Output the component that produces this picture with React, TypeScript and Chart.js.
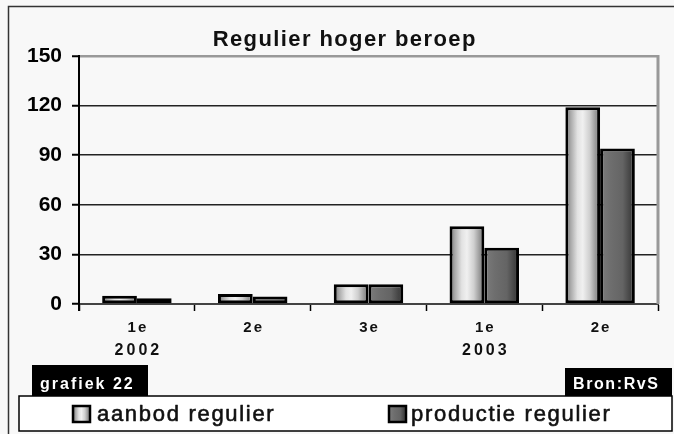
import React, { useEffect, useRef } from "react";
import { Chart, registerables } from "chart.js";

Chart.register(...registerables);

// ---- data ----
const quarters = ["1e", "2e", "3e", "1e", "2e"];
const years = ["2002", "", "", "2003", ""];
const aanbod = [5, 6, 12, 47, 119];
const productie = [3.5, 4.5, 12, 34, 94];
const yTicks = [0, 30, 60, 90, 120, 150];
const titleText = "Regulier hoger beroep";
const seriesNames = ["aanbod regulier", "productie regulier"];
const graphLabel = "grafiek 22";
const sourceLabel = "Bron:RvS";

const W = 674;
const H = 434;
const CAT_PCT = 0.6;
const FONT = "'Liberation Sans', Arial, sans-serif";

function lightGradient(ctx: CanvasRenderingContext2D, x0: number, x1: number) {
  const g = ctx.createLinearGradient(x0, 0, x1, 0);
  g.addColorStop(0, "#6e6e6e");
  g.addColorStop(0.15, "#a8a8a8");
  g.addColorStop(0.35, "#e2e2e2");
  g.addColorStop(0.5, "#f0f0f0");
  g.addColorStop(0.7, "#cfcfcf");
  g.addColorStop(0.88, "#959595");
  g.addColorStop(1, "#a0a0a0");
  return g;
}
function darkGradient(ctx: CanvasRenderingContext2D, x0: number, x1: number) {
  const g = ctx.createLinearGradient(x0, 0, x1, 0);
  g.addColorStop(0, "#7c7c7c");
  g.addColorStop(0.3, "#6e6e6e");
  g.addColorStop(0.65, "#646464");
  g.addColorStop(0.88, "#424242");
  g.addColorStop(1, "#505050");
  return g;
}

function barFill(kind: number) {
  return (c: any) => {
    const chart = c.chart;
    const xs = chart.scales && chart.scales.x;
    if (!chart.chartArea || !xs || c.dataIndex === undefined) return kind === 0 ? "#cccccc" : "#666666";
    const center = xs.getPixelForValue(c.dataIndex);
    const catW = xs.width / quarters.length;
    const bw = (catW * CAT_PCT) / 2;
    const left = kind === 0 ? center - bw : center;
    return kind === 0 ? lightGradient(chart.ctx, left, left + bw) : darkGradient(chart.ctx, left, left + bw);
  };
}

function drawText(
  ctx: CanvasRenderingContext2D,
  text: string,
  x: number,
  y: number,
  font: string,
  color: string,
  spacing: number,
  align: "left" | "center",
  heavy = 0
) {
  ctx.save();
  ctx.font = font;
  ctx.fillStyle = color;
  ctx.textBaseline = "alphabetic";
  ctx.textAlign = "left";
  (ctx as any).letterSpacing = spacing + "px";
  let x0 = x;
  if (align === "center") {
    const w = ctx.measureText(text).width;
    x0 = x - (w - spacing) / 2;
  }
  ctx.fillText(text, x0, y);
  if (heavy > 0) {
    ctx.strokeStyle = color;
    ctx.lineWidth = heavy;
    ctx.lineJoin = "round";
    ctx.strokeText(text, x0, y);
  }
  ctx.restore();
}

const decorPlugin = {
  id: "decor",
  beforeDraw(chart: any) {
    const ctx: CanvasRenderingContext2D = chart.ctx;
    ctx.save();
    ctx.fillStyle = "#f8f8f8";
    ctx.fillRect(0, 0, W, H);
    ctx.strokeStyle = "#333";
    ctx.lineWidth = 1.5;
    ctx.beginPath();
    ctx.moveTo(8.5, H);
    ctx.lineTo(8.5, 6.5);
    ctx.lineTo(W, 6.5);
    ctx.stroke();
    ctx.restore();
  },
  beforeDatasetsDraw(chart: any) {
    const ctx: CanvasRenderingContext2D = chart.ctx;
    const a = chart.chartArea;
    ctx.save();
    ctx.strokeStyle = "#999";
    ctx.lineWidth = 3;
    ctx.beginPath();
    ctx.moveTo(a.right, a.top - 1);
    ctx.lineTo(a.right, a.bottom);
    ctx.stroke();
    ctx.strokeStyle = "#000";
    ctx.lineWidth = 2;
    ctx.beginPath();
    ctx.moveTo(a.left, a.bottom);
    ctx.lineTo(a.left, a.bottom + 7);
    ctx.stroke();
    ctx.restore();
  },
  afterDraw(chart: any) {
    const ctx: CanvasRenderingContext2D = chart.ctx;
    const xs = chart.scales.x;
    // title
    drawText(ctx, titleText, 344, 46, `bold 22px ${FONT}`, "#111", 1.4, "center");
    // x labels
    quarters.forEach((q, i) => {
      const px = xs.getPixelForValue(i);
      drawText(ctx, q, px, 332, `bold 15px ${FONT}`, "#111", 2, "center");
      if (years[i]) drawText(ctx, years[i], px, 355, `bold 16px ${FONT}`, "#111", 3, "center");
    });
    // legend box
    ctx.save();
    ctx.fillStyle = "#ffffff";
    ctx.fillRect(19, 396, 653, 35);
    ctx.strokeStyle = "#000";
    ctx.lineWidth = 1.5;
    ctx.strokeRect(19, 396, 653, 35);
    // footer boxes
    ctx.fillStyle = "#000";
    ctx.fillRect(32, 365, 116, 31);
    ctx.fillRect(565, 368, 107, 28);
    ctx.restore();
    drawText(ctx, graphLabel, 40, 389, `bold 16px ${FONT}`, "#fff", 2, "left");
    drawText(ctx, sourceLabel, 573, 389, `bold 16px ${FONT}`, "#fff", 1.6, "left");
    // legend items
    const items = [
      { x: 73, tx: 97, name: seriesNames[0], grad: lightGradient },
      { x: 389, tx: 411, name: seriesNames[1], grad: darkGradient },
    ];
    items.forEach((it) => {
      ctx.save();
      ctx.fillStyle = it.grad(ctx, it.x, it.x + 17);
      ctx.fillRect(it.x, 406, 17, 16);
      ctx.strokeStyle = "#000";
      ctx.lineWidth = 2.5;
      ctx.strokeRect(it.x, 406, 17, 16);
      ctx.restore();
      drawText(ctx, it.name, it.tx, 421, `22px ${FONT}`, "#111", 1.7, "left", 0.6);
    });
  },
};

export default function App() {
  const ref = useRef<HTMLCanvasElement | null>(null);
  useEffect(() => {
    document.body.style.margin = "0";
    const canvas = ref.current;
    if (!canvas) return;
    const chart = new Chart(canvas, {
      type: "bar",
      data: {
        labels: quarters.map((q, i) => (years[i] ? [q, years[i]] : q)) as any,
        datasets: [
          {
            label: seriesNames[0],
            data: aanbod,
            backgroundColor: barFill(0) as any,
            borderColor: "#000",
            borderWidth: 3,
            borderSkipped: false,
            categoryPercentage: CAT_PCT,
            barPercentage: 1,
          },
          {
            label: seriesNames[1],
            data: productie,
            backgroundColor: barFill(1) as any,
            borderColor: "#000",
            borderWidth: 3,
            borderSkipped: false,
            categoryPercentage: CAT_PCT,
            barPercentage: 1,
          },
        ],
      },
      options: {
        animation: false,
        responsive: false,
        devicePixelRatio: 1,
        layout: { padding: { left: 0, top: 56, right: 16, bottom: 0 } },
        plugins: {
          legend: { display: false },
          title: { display: false },
          tooltip: { enabled: false },
        },
        scales: {
          x: {
            grid: {
              display: true,
              drawOnChartArea: false,
              drawTicks: true,
              tickLength: 7,
              tickColor: "#000",
              tickWidth: 1.5,
              offset: true,
            },
            border: { display: true, color: "#444", width: 2 },
            ticks: { display: false },
            afterFit: (s: any) => {
              s.height = 130;
            },
          },
          y: {
            min: 0,
            max: 150,
            afterBuildTicks: (s: any) => {
              s.ticks = yTicks.map((v) => ({ value: v }));
            },
            ticks: {
              padding: 10,
              color: "#000",
              font: { family: FONT, size: 21, weight: "bold" },
            },
            grid: {
              color: (c: any) => (c.tick && c.tick.value === 150 ? "#999" : "#222"),
              lineWidth: (c: any) => (c.tick && c.tick.value === 150 ? 2.5 : 1.5),
              tickColor: "#000",
              tickLength: 7,
              tickWidth: 2,
            },
            border: { display: true, color: "#000", width: 2 },
            afterFit: (s: any) => {
              s.width = 79;
            },
          },
        },
      },
      plugins: [decorPlugin],
    });
    return () => chart.destroy();
  }, []);
  return (
    <div style={{ position: "fixed", left: 0, top: 0, width: W, height: H }}>
      <canvas ref={ref} width={W} height={H} style={{ display: "block" }} />
    </div>
  );
}
